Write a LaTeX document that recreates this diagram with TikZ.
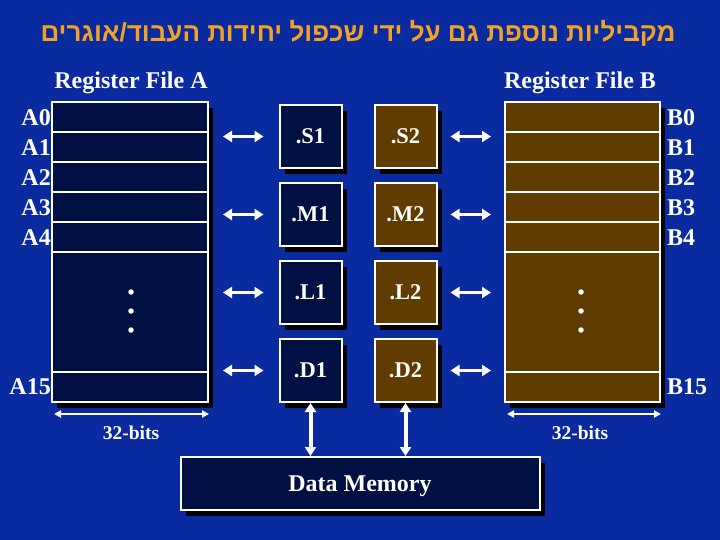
\documentclass[tikz,border=0pt]{standalone}
\usepackage{fontspec}
\setmainfont{Liberation Serif}
\newfontfamily\hebfont[Script=Hebrew]{Liberation Sans}
\TeXXeTstate=1
\usetikzlibrary{arrows.meta,shadows}
\definecolor{bg}{RGB}{10,42,160}
\definecolor{navy}{RGB}{0,16,66}
\definecolor{brownf}{RGB}{96,60,0}
\definecolor{titleor}{RGB}{242,162,36}
\begin{document}
\begin{tikzpicture}[x=1pt,y=-1pt,
  shade/.style={drop shadow={shadow xshift=5pt,shadow yshift=-6pt,fill=black,opacity=1}},
  box/.style={draw=white,line width=2pt,inner sep=0pt,shade,text=white,
    font=\fontsize{22.5}{22.5}\selectfont\bfseries},
  unitA/.style={box,fill=navy,minimum width=62pt,minimum height=63pt},
  unitB/.style={box,fill=brownf,minimum width=62pt,minimum height=63pt},
  regfile/.style={box,minimum width=156pt,minimum height=300pt},
  lab/.style={text=white,inner sep=0pt,font=\fontsize{24}{24}\selectfont\bfseries},
  small/.style={text=white,inner sep=0pt,font=\fontsize{19.5}{19.5}\selectfont\bfseries},
  sep/.style={draw=white,line width=2pt},
  arr/.style={{Triangle[width=11pt,length=9pt]}-{Triangle[width=11pt,length=9pt]},white,line width=3.5pt},
  barr/.style={{Triangle[width=7pt,length=7pt]}-{Triangle[width=7pt,length=7pt]},white,line width=1.8pt},
  dot/.style={circle,fill=white,inner sep=0pt,minimum size=5.5pt}
]
\useasboundingbox (0,0) rectangle (720,540);
\fill[bg] (0,0) rectangle (720,540);

% title
\node[text=titleor,inner sep=0pt,font=\hebfont\fontsize{26}{26}\selectfont\bfseries] (title) at (358,33)
  {\beginR מקביליות נוספת גם על ידי שכפול יחידות העבוד/אוגרים\endR};

% register files
\node[lab] (rfA) at (131,83) {Register File A};
\node[lab] (rfB) at (580,83) {Register File B};
\node[regfile,fill=navy] (regA) at (130,252) {};
\node[regfile,fill=brownf,minimum width=155pt] (regB) at (582.5,252) {};
\foreach \yy in {132,162,192,222,252,372}{
  \draw[sep] (regA.west |- 0,\yy) -- (regA.east |- 0,\yy);
  \draw[sep] (regB.west |- 0,\yy) -- (regB.east |- 0,\yy);
}
\foreach \yy/\nm in {292/1,311/2,330/3}{
  \node[dot] (dA\nm) at (131,\yy) {};
  \node[dot] (dB\nm) at (581,\yy) {};
}

% register labels
\foreach \i/\yy in {0/118,1/148,2/178,3/208,4/238}{
  \node[lab,anchor=east] (A\i) at (51,\yy) {A\i};
  \node[lab,anchor=west] (B\i) at (667,\yy) {B\i};
}
\node[lab,anchor=east] (A15) at (51,387) {A15};
\node[lab,anchor=west] (B15) at (667,387) {B15};

% functional units
\node[unitA] (S1) at (310.5,136.5) {.S1};
\node[unitB] (S2) at (405.5,136.5) {.S2};
\node[unitA] (M1) at (310.5,214.5) {.M1};
\node[unitB] (M2) at (405.5,214.5) {.M2};
\node[unitA] (L1) at (310.5,292.5) {.L1};
\node[unitB] (L2) at (405.5,292.5) {.L2};
\node[unitA] (D1) at (310.5,370.5) {.D1};
\node[unitB] (D2) at (405.5,370.5) {.D2};

% data memory
\node[box,fill=navy,minimum width=359pt,minimum height=53pt] (DM) at (360.5,483.5) {};
\node[text=white,inner sep=0pt,font=\fontsize{24}{24}\selectfont\bfseries] (DMt) at (360,486) {Data Memory};

% arrows between register files and units
\foreach \u in {S1,M1,L1,D1}{
  \draw[arr,shorten <=14pt,shorten >=15pt] (regA.east |- \u.west) -- (\u.west);
}
\foreach \u in {S2,M2,L2,D2}{
  \draw[arr,shorten <=13pt,shorten >=13pt] (\u.east) -- (regB.west |- \u.east);
}
\draw[arr,line width=4pt] (D1.south) -- (D1.south |- DM.north);
\draw[arr,line width=4pt] (D2.south) -- (D2.south |- DM.north);

% width arrows
\coordinate (wA1) at ([xshift=3pt,yshift=-11pt]regA.south west);
\coordinate (wA2) at ([yshift=-11pt]regA.south east);
\coordinate (wB1) at ([xshift=3pt,yshift=-11pt]regB.south west);
\coordinate (wB2) at ([yshift=-11pt]regB.south east);
\draw[barr] (wA1) -- (wA2);
\draw[barr] (wB1) -- (wB2);
\node[small] (bitsA) at (131,433) {32-bits};
\node[small] (bitsB) at (580,433) {32-bits};
\end{tikzpicture}
\end{document}
